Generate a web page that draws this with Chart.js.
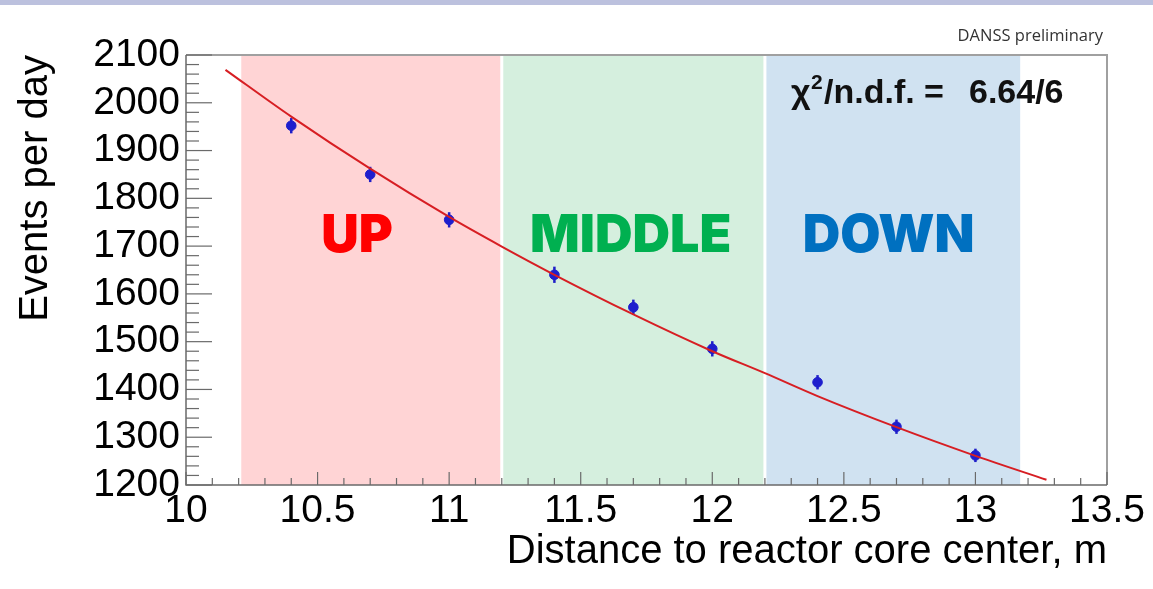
<!DOCTYPE html>
<html>
<head>
<meta charset="utf-8">
<script src="https://cdn.jsdelivr.net/npm/chart.js@4.4.1/dist/chart.umd.min.js"></script>
<style>
  html, body { margin: 0; padding: 0; background: #fff; }
  #wrap { width: 1153px; height: 589px; position: relative; }
</style>
</head>
<body>
<div id="wrap"><canvas id="dist-chart" width="1153" height="589"></canvas></div>
<script>
// measured points
const distances = [10.4, 10.7, 11.0, 11.4, 11.7, 12.0, 12.4, 12.7, 13.0];
const eventsPerDay = [1952, 1850, 1755, 1640, 1572, 1485, 1415, 1322, 1262];
const eventErrors = [16, 16, 16, 17, 16, 16, 15, 15, 14];

// fit curve
const fitX = [10.15, 10.4, 10.7, 11.0, 11.2, 11.4, 11.7, 12.0, 12.2, 12.4, 12.7, 13.0, 13.27];
const fitY = [2069, 1971, 1862, 1761, 1699, 1640, 1557, 1480, 1434, 1386, 1321, 1261, 1211];

// detector positions
const sections = ["UP", "MIDDLE", "DOWN"];
const sectionFrom = [10.21, 11.2, 12.2];
const sectionTo = [11.2, 12.2, 13.17];
const sectionFill = ["rgb(255,212,213)", "rgb(213,239,222)", "rgb(208,226,241)"];
const sectionText = ["#ff0000", "#00b050", "#0070c0"];
const sectionLabelX = [10.65, 11.69, 12.67];
const sectionLabelY = 1720;

const xTicks = [10, 10.5, 11, 11.5, 12, 12.5, 13, 13.5];
const yTicks = [1200, 1300, 1400, 1500, 1600, 1700, 1800, 1900, 2000, 2100];

const bandsPlugin = {
  id: 'bands',
  beforeDraw(chart) {
    const ctx = chart.ctx;
    ctx.save();
    ctx.fillStyle = '#fff';
    ctx.fillRect(0, 0, chart.width, chart.height);
    ctx.fillStyle = 'rgb(188,193,222)';
    ctx.fillRect(0, 0, chart.width, 5);
    ctx.restore();
  },
  beforeDatasetsDraw(chart) {
    const ctx = chart.ctx;
    const x = chart.scales.x, y = chart.scales.y;
    const a = chart.chartArea;
    ctx.save();
    for (let i = 0; i < sections.length; i++) {
      const x0 = x.getPixelForValue(sectionFrom[i]);
      const x1 = x.getPixelForValue(sectionTo[i]);
      ctx.fillStyle = sectionFill[i];
      ctx.fillRect(x0, a.top, x1 - x0, a.bottom - a.top);
    }
    ctx.fillStyle = '#fff';
    for (let i = 1; i < sections.length; i++) {
      const xb = x.getPixelForValue(sectionFrom[i]);
      ctx.fillRect(xb - 1.5, a.top, 3, a.bottom - a.top);
    }
    // section names
    ctx.font = '900 52px Inter';
    ctx.textAlign = 'center';
    ctx.textBaseline = 'middle';
    for (let i = 0; i < sections.length; i++) {
      ctx.fillStyle = sectionText[i];
      ctx.fillText(sections[i], x.getPixelForValue(sectionLabelX[i]), y.getPixelForValue(sectionLabelY));
    }
    // frame
    ctx.strokeStyle = '#a0a0a0';
    ctx.lineWidth = 2;
    ctx.beginPath();
    ctx.moveTo(a.left, a.top);
    ctx.lineTo(a.right, a.top);
    ctx.lineTo(a.right, a.bottom);
    ctx.stroke();
    ctx.strokeStyle = '#6a6a6a';
    ctx.lineWidth = 1.5;
    ctx.beginPath();
    ctx.moveTo(a.left, a.top);
    ctx.lineTo(a.left, a.bottom);
    ctx.lineTo(a.right, a.bottom);
    ctx.stroke();
    // ticks inside the frame
    ctx.lineWidth = 1.2;
    for (let v = 1200; v <= 2100; v += 20) {
      const py = y.getPixelForValue(v);
      const len = v % 100 === 0 ? 26 : 13;
      ctx.beginPath();
      ctx.moveTo(a.left, py);
      ctx.lineTo(a.left + len, py);
      ctx.stroke();
    }
    for (let k = 0; k <= 35; k++) {
      const px = x.getPixelForValue(10 + k / 10);
      const len = k % 5 === 0 ? 13 : 7;
      ctx.beginPath();
      ctx.moveTo(px, a.bottom);
      ctx.lineTo(px, a.bottom - len);
      ctx.stroke();
    }
    // error bars
    ctx.strokeStyle = 'rgb(30,30,200)';
    ctx.lineWidth = 2.5;
    for (let i = 0; i < distances.length; i++) {
      const px = x.getPixelForValue(distances[i]);
      ctx.beginPath();
      ctx.moveTo(px, y.getPixelForValue(eventsPerDay[i] - eventErrors[i]));
      ctx.lineTo(px, y.getPixelForValue(eventsPerDay[i] + eventErrors[i]));
      ctx.stroke();
    }
    ctx.restore();
  },
  afterDraw(chart) {
    const ctx = chart.ctx;
    ctx.save();
    ctx.fillStyle = '#333';
    ctx.font = '16.5px "Open Sans"';
    ctx.textAlign = 'right';
    ctx.textBaseline = 'alphabetic';
    ctx.fillText('DANSS preliminary', 1103, 41);
    ctx.fillStyle = '#111';
    ctx.font = 'bold 34px "Liberation Sans"';
    ctx.textAlign = 'left';
    ctx.fillText('\u03c7', 791, 103);
    ctx.font = 'bold 21px "Liberation Sans"';
    ctx.fillText('2', 811, 89);
    ctx.font = 'bold 34px "Liberation Sans"';
    ctx.fillText('/n.d.f. =', 824, 103);
    ctx.fillText('6.64/6', 969, 103);
    ctx.restore();
  }
};

new Chart(document.getElementById('dist-chart'), {
  type: 'scatter',
  data: {
    datasets: [
      {
        label: 'fit',
        type: 'line',
        data: fitX.map((v, i) => ({x: v, y: fitY[i]})),
        borderColor: 'rgb(215,30,35)',
        borderWidth: 2,
        pointRadius: 0,
        cubicInterpolationMode: 'monotone',
        fill: false,
        order: 0
      },
      {
        label: 'data',
        data: distances.map((v, i) => ({x: v, y: eventsPerDay[i]})),
        backgroundColor: 'rgb(30,30,205)',
        borderColor: 'rgb(30,30,205)',
        pointRadius: 4.8,
        order: 1
      }
    ]
  },
  plugins: [bandsPlugin],
  options: {
    responsive: false,
    animation: false,
    layout: { padding: { left: 0, right: 46, top: 55, bottom: 0 } },
    plugins: { legend: { display: false }, tooltip: { enabled: false } },
    scales: {
      x: {
        type: 'linear',
        min: 10,
        max: 13.5,
        afterFit(scale) { scale.height = 104; },
        afterBuildTicks(scale) { scale.ticks = xTicks.map(v => ({value: v})); },
        grid: { display: false, drawTicks: false },
        border: { display: false },
        ticks: {
          padding: 3,
          color: '#000',
          maxRotation: 0,
          autoSkip: false,
          callback: v => String(v),
          font: { family: 'Liberation Sans', size: 39 }
        },
        title: {
          display: true,
          text: 'Distance to reactor core center, m',
          align: 'end',
          color: '#000',
          font: { family: 'Liberation Sans', size: 40 },
          padding: { top: 0, bottom: 13 }
        }
      },
      y: {
        min: 1200,
        max: 2100,
        afterFit(scale) { scale.width = 186; },
        afterBuildTicks(scale) { scale.ticks = yTicks.map(v => ({value: v})); },
        grid: { display: false, drawTicks: false },
        border: { display: false },
        ticks: {
          padding: 6,
          color: '#000',
          autoSkip: false,
          callback: v => String(v),
          font: { family: 'Liberation Sans', size: 39 }
        },
        title: {
          display: true,
          text: 'Events per day',
          align: 'end',
          color: '#000',
          font: { family: 'Liberation Sans', size: 40 },
          padding: { top: 12, bottom: 0 }
        }
      }
    }
  }
});
</script>
</body>
</html>
